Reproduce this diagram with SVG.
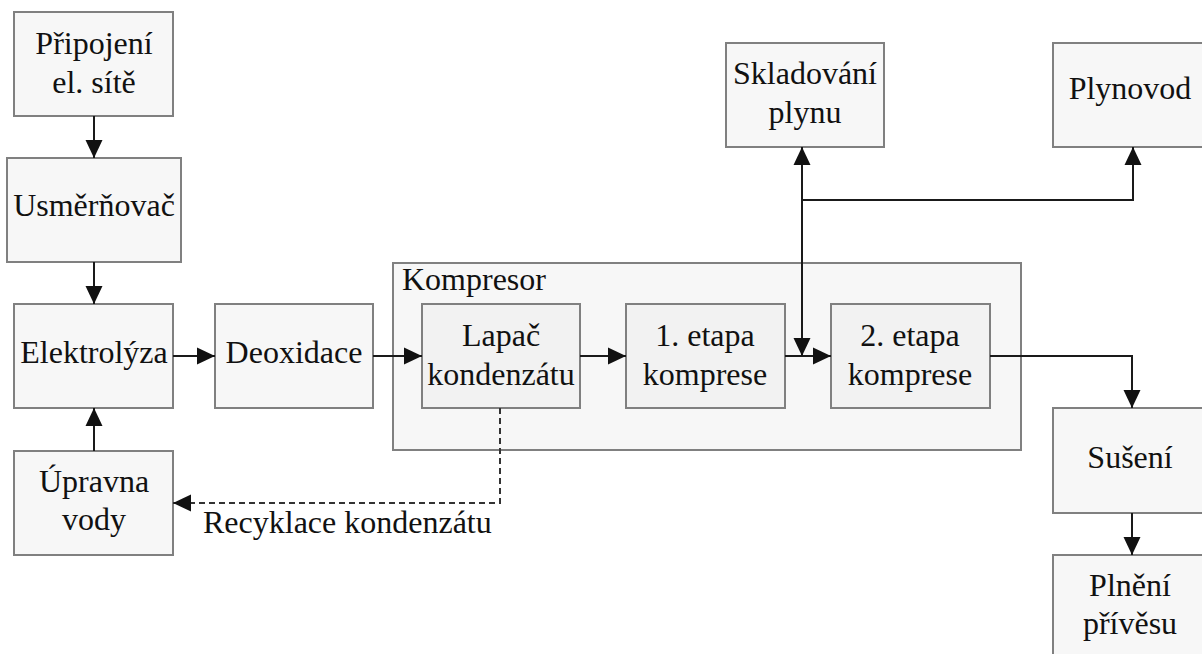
<svg xmlns="http://www.w3.org/2000/svg" width="1202" height="654" viewBox="0 0 1202 654">
<style>
.box{fill:#f7f7f7;stroke:#808080;stroke-width:2}
.inner{fill:#f2f2f2;stroke:#808080;stroke-width:2}
.t{font-family:"Liberation Serif","Times New Roman",serif;font-size:32px;fill:#111;text-anchor:middle}
.tl{font-family:"Liberation Serif","Times New Roman",serif;font-size:32px;fill:#111}
.c{fill:none;stroke:#1a1a1a;stroke-width:2}
.d{fill:none;stroke:#333;stroke-width:2;stroke-dasharray:6 4}
</style>
<defs>
<marker id="ah" markerUnits="userSpaceOnUse" markerWidth="18" markerHeight="18" viewBox="0 0 18 18" refX="18" refY="9" orient="auto-start-reverse">
<path d="M0,0.5 L18,9 L0,17.5 Z" fill="#111"/>
</marker>
</defs>
<rect width="1202" height="654" fill="#fff"/>
<g id="kompresor">
<rect class="box" x="393" y="263" width="628" height="187"/>
<text class="tl" x="402" y="290">Kompresor</text>
</g>
<g id="pripojeni">
<rect class="box" x="14" y="12" width="159" height="104"/>
<text class="t" x="94" y="54">Připojení</text>
<text class="t" x="94" y="93">el. sítě</text>
</g>
<g id="usmernovac">
<rect class="box" x="7" y="158" width="174" height="104"/>
<text class="t" x="94" y="216">Usměrňovač</text>
</g>
<g id="elektrolyza">
<rect class="box" x="14" y="304" width="159" height="104"/>
<text class="t" x="94" y="363">Elektrolýza</text>
</g>
<g id="upravna">
<rect class="box" x="14" y="451" width="159" height="104"/>
<text class="t" x="94" y="492">Úpravna</text>
<text class="t" x="94" y="530">vody</text>
</g>
<g id="deoxidace">
<rect class="box" x="215" y="304" width="158" height="104"/>
<text class="t" x="294" y="363">Deoxidace</text>
</g>
<g id="lapac">
<rect class="inner" x="422" y="304" width="158" height="104"/>
<text class="t" x="501" y="346">Lapač</text>
<text class="t" x="501" y="385">kondenzátu</text>
</g>
<g id="etapa1">
<rect class="inner" x="626" y="304" width="159" height="104"/>
<text class="t" x="705" y="346">1. etapa</text>
<text class="t" x="705" y="385">komprese</text>
</g>
<g id="etapa2">
<rect class="inner" x="831" y="304" width="159" height="104"/>
<text class="t" x="910" y="346">2. etapa</text>
<text class="t" x="910" y="385">komprese</text>
</g>
<g id="skladovani">
<rect class="box" x="726" y="43" width="158" height="104"/>
<text class="t" x="805" y="84">Skladování</text>
<text class="t" x="805" y="123">plynu</text>
</g>
<g id="plynovod">
<rect class="box" x="1053" y="43" width="159" height="104"/>
<text class="t" x="1130" y="99">Plynovod</text>
</g>
<g id="suseni">
<rect class="box" x="1053" y="408" width="159" height="105"/>
<text class="t" x="1130" y="468">Sušení</text>
</g>
<g id="plneni">
<rect class="box" x="1053" y="555" width="159" height="110"/>
<text class="t" x="1130" y="596">Plnění</text>
<text class="t" x="1130" y="634">přívěsu</text>
</g>
<g id="connectors">
<path class="c" d="M94,116 V158" marker-end="url(#ah)"/>
<path class="c" d="M94,262 V304" marker-end="url(#ah)"/>
<path class="c" d="M94,451 V408" marker-end="url(#ah)"/>
<path class="c" d="M173,356 H215" marker-end="url(#ah)"/>
<path class="c" d="M373,356 H422" marker-end="url(#ah)"/>
<path class="c" d="M580,356 H626" marker-end="url(#ah)"/>
<path class="c" d="M785,356 H831" marker-end="url(#ah)"/>
<path class="c" d="M802,147 V356" marker-start="url(#ah)" marker-end="url(#ah)"/>
<path class="c" d="M802,200 H1133 V147" marker-end="url(#ah)"/>
<path class="c" d="M990,356 H1132 V408" marker-end="url(#ah)"/>
<path class="c" d="M1132,513 V555" marker-end="url(#ah)"/>
<path class="d" d="M500,408 V503 H173" marker-end="url(#ah)"/>
<text class="tl" x="203" y="533">Recyklace kondenzátu</text>
</g>
</svg>
